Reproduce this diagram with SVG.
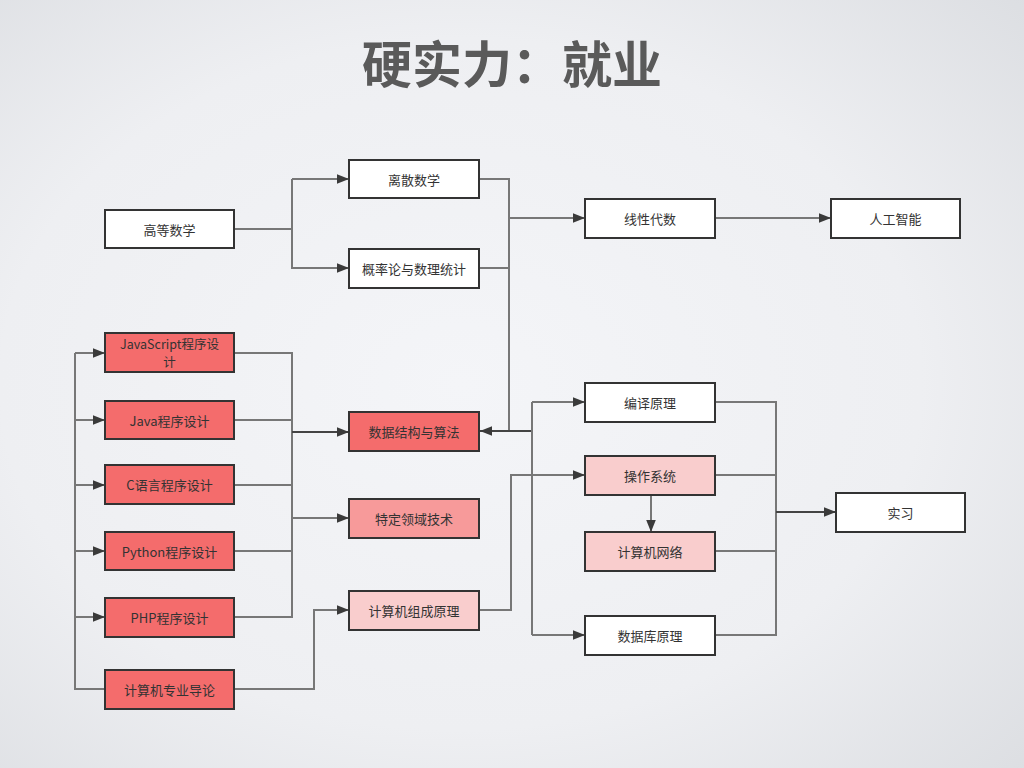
<svg xmlns="http://www.w3.org/2000/svg" width="1024" height="768" viewBox="0 0 1024 768">
<defs>
<radialGradient id="bg" cx="0.45" cy="0.5" r="0.75">
<stop offset="0" stop-color="#f4f5f8"/>
<stop offset="0.6" stop-color="#eeeff2"/>
<stop offset="1" stop-color="#dcdee2"/>
</radialGradient>
<marker id="ah" viewBox="0 0 10 10" refX="10" refY="5" markerWidth="12" markerHeight="12" markerUnits="userSpaceOnUse" orient="auto">
<path d="M0,1 L10,5 L0,9 Z" fill="#3a3a3a"/>
</marker>
<style>
.n rect{stroke:#333;stroke-width:2}
.w{fill:#fff}
.r{fill:#f46c6c}
.m{fill:#f79a9a}
.p{fill:#f9cdcd}
.n text{font-family:"Noto Sans CJK SC","Open Sans",sans-serif;font-size:13px;fill:#333;text-anchor:middle;dominant-baseline:central}
.c path{fill:none;stroke:#777;stroke-width:2}
.c .d{stroke:#444}
.c .a{marker-end:url(#ah)}
</style>
</defs>
<rect width="1024" height="768" fill="url(#bg)"/>
<text x="512" y="83" font-family="Noto Sans CJK SC,sans-serif" font-weight="bold" font-size="50" fill="#5a5a5a" text-anchor="middle">硬实力：就业</text>
<g class="c">
<path d="M234,229 H292 V179"/>
<path class="a" d="M292,179 H349"/>
<path class="a" d="M292,229 V268 H349"/>
<path d="M479,179 H509 V431"/>
<path d="M479,268 H509"/>
<path class="a" d="M509,218 H585"/>
<path class="a" d="M715,218 H831"/>
<path class="d a" d="M532,431 H480"/>
<path d="M532,402 V635"/>
<path class="a" d="M532,402 H585"/>
<path class="a" d="M532,635 H585"/>
<path d="M234,689 H75 V353"/>
<path class="a" d="M75,353 H105"/>
<path class="a" d="M75,420 H105"/>
<path class="a" d="M75,485 H105"/>
<path class="a" d="M75,551 H105"/>
<path class="a" d="M75,617 H105"/>
<path d="M234,353 H292 V617 H234"/>
<path d="M234,420 H292"/>
<path d="M234,485 H292"/>
<path d="M234,551 H292"/>
<path class="d a" d="M292,432 H349"/>
<path class="a" d="M292,518 H349"/>
<path class="a" d="M234,689 H314 V610 H349"/>
<path class="a" d="M479,610 H511 V475 H585"/>
<path class="a" d="M651,495 V532"/>
<path d="M715,402 H776 V635 H715"/>
<path d="M715,475 H776"/>
<path d="M715,551 H776"/>
<path class="d a" d="M776,512 H836"/>
</g>
<g class="n" id="gdsx"><rect class="w" x="105" y="210" width="129" height="38"/><text x="169.5" y="229">高等数学</text></g>
<g class="n" id="lssx"><rect class="w" x="349" y="160" width="130" height="38"/><text x="414" y="179">离散数学</text></g>
<g class="n" id="gll"><rect class="w" x="349" y="249" width="130" height="39"/><text x="414" y="268">概率论与数理统计</text></g>
<g class="n" id="xxds"><rect class="w" x="585" y="199" width="130" height="39"/><text x="650" y="218">线性代数</text></g>
<g class="n" id="rgzn"><rect class="w" x="831" y="199" width="129" height="39"/><text x="895.5" y="218">人工智能</text></g>
<g class="n" id="js"><rect class="r" x="105" y="333" width="129" height="39"/><text x="169.5" y="343" style="font-size:12.5px">JavaScript程序设</text><text x="169.5" y="361" style="font-size:12.5px">计</text></g>
<g class="n" id="java"><rect class="r" x="105" y="401" width="129" height="38"/><text x="169.5" y="420">Java程序设计</text></g>
<g class="n" id="c"><rect class="r" x="105" y="465" width="129" height="39"/><text x="169.5" y="484.5">C语言程序设计</text></g>
<g class="n" id="py"><rect class="r" x="105" y="532" width="129" height="38"/><text x="169.5" y="551">Python程序设计</text></g>
<g class="n" id="php"><rect class="r" x="105" y="598" width="129" height="39"/><text x="169.5" y="617.5">PHP程序设计</text></g>
<g class="n" id="dl"><rect class="r" x="105" y="670" width="129" height="39"/><text x="169.5" y="689.5">计算机专业导论</text></g>
<g class="n" id="sjjg"><rect class="r" x="349" y="412" width="130" height="39"/><text x="414" y="431.5">数据结构与算法</text></g>
<g class="n" id="tdly"><rect class="m" x="349" y="499" width="130" height="39"/><text x="414" y="518.5">特定领域技术</text></g>
<g class="n" id="zcyl"><rect class="p" x="349" y="591" width="130" height="39"/><text x="414" y="610.5">计算机组成原理</text></g>
<g class="n" id="byyl"><rect class="w" x="585" y="383" width="130" height="39"/><text x="650" y="402.5">编译原理</text></g>
<g class="n" id="czxt"><rect class="p" x="585" y="456" width="130" height="39"/><text x="650" y="475.5">操作系统</text></g>
<g class="n" id="jsjwl"><rect class="p" x="585" y="532" width="130" height="39"/><text x="650" y="551.5">计算机网络</text></g>
<g class="n" id="sjkyl"><rect class="w" x="585" y="616" width="130" height="39"/><text x="650" y="635.5">数据库原理</text></g>
<g class="n" id="sx"><rect class="w" x="836" y="493" width="129" height="39"/><text x="900.5" y="512.5">实习</text></g>
</svg>
